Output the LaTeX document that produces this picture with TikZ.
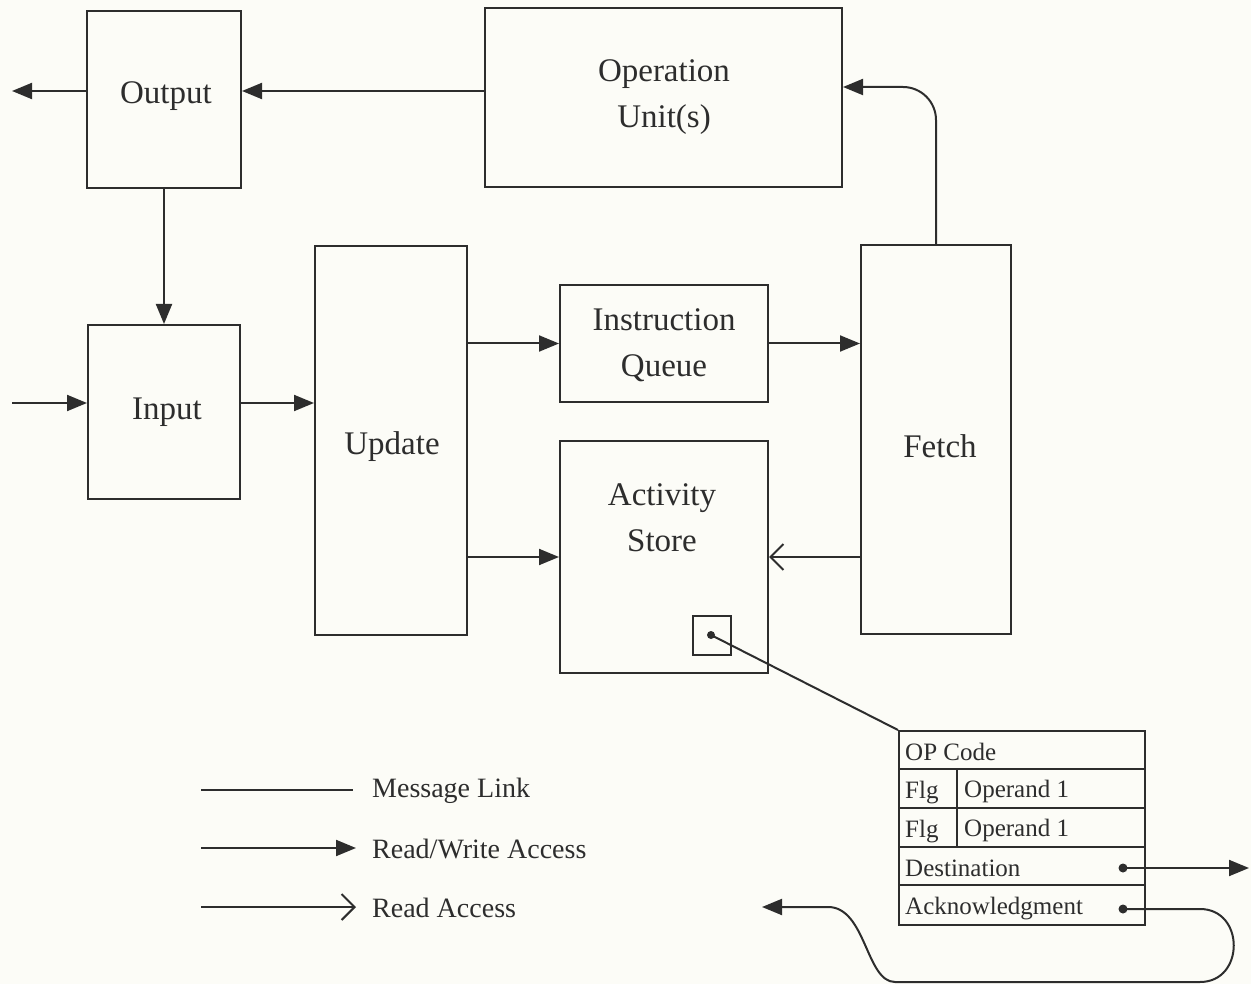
\documentclass[tikz,border=0pt]{standalone}
\usepackage{fontspec}
\setmainfont{Liberation Serif}
\usetikzlibrary{arrows.meta,calc}
\definecolor{paper}{RGB}{252,252,247}
\definecolor{ink}{RGB}{45,45,45}
\begin{document}
\begin{tikzpicture}[x=1pt,y=-1pt,
  box/.style={draw=ink,line width=2pt,inner sep=0pt},
  lbl/.style={font=\fontsize{33}{46}\selectfont,align=center,inner sep=0pt,text=ink},
  small/.style={font=\fontsize{25}{28}\selectfont,inner sep=0pt,anchor=west,text=ink},
  leg/.style={font=\fontsize{28}{30}\selectfont,inner sep=0pt,anchor=west,text=ink},
  link/.style={draw=ink,line width=2pt},
  rw/.style={link,-{Triangle[length=20pt,width=16pt]}},
  ro/.style={link,-{Straight Barb[length=13pt,width=26pt,line width=2pt]}},
  dot/.style={fill=ink}
  ]
\useasboundingbox (0,0) rectangle (1251,984);
\fill[paper] (0,0) rectangle (1251,984);

% boxes
\node[box,minimum width=154pt,minimum height=177pt] (output) at (164,99.5) {};
\node[box,minimum width=357pt,minimum height=179pt] (opunit) at (663.5,97.5) {};
\node[box,minimum width=150pt,minimum height=389pt] (fetch) at (936,439.5) {};
\node[box,minimum width=152pt,minimum height=174pt] (input) at (164,412) {};
\node[box,minimum width=152pt,minimum height=389pt] (update) at (391,440.5) {};
\node[box,minimum width=208pt,minimum height=117pt] (iq) at (664,343.5) {};
\node[box,minimum width=208pt,minimum height=232pt] (as) at (664,557) {};
\node[box,minimum width=38pt,minimum height=39pt] (sq) at (712,635.5) {};

% labels
\node[lbl] (toutput) at (166,96) {Output};
\node[lbl] (topunit) at (664,97) {Operation\\Unit(s)};
\node[lbl] (tfetch) at (940,446) {Fetch};
\node[lbl] (tinput) at (167,412) {Input};
\node[lbl] (tupdate) at (392,447) {Update};
\node[lbl] (tiq) at (664,345) {Instruction\\Queue};
\node[lbl] (tas) at (662,518) {Activity\\Store};

% table
\node[box,minimum width=246pt,minimum height=38pt] (rcode) at (1022,750) {};
\node[box,minimum width=246pt,minimum height=39pt] (rop1) at (1022,788.5) {};
\node[box,minimum width=246pt,minimum height=39pt] (rop2) at (1022,827.5) {};
\node[box,minimum width=246pt,minimum height=38pt] (rdest) at (1022,866) {};
\node[box,minimum width=246pt,minimum height=40pt] (rack) at (1022,905) {};
\node[box,minimum width=58pt,minimum height=39pt] (f1) at (928,788.5) {};
\node[box,minimum width=58pt,minimum height=39pt] (f2) at (928,827.5) {};
\node[small] (tcode) at (905,752) {OP Code};
\node[small] (tf1) at (905,793) {Flg};
\node[small] (to1) at (964,791) {Operand 1};
\node[small] (tf2) at (905,832) {Flg};
\node[small] (to2) at (964,830) {Operand 1};
\node[small] (tdest) at (905,868) {Destination};
\node[small] (tack) at (905,909) {Acknowledgment};

% coordinates
\coordinate (outL) at (12,91);
\coordinate (inL) at (12,403);
\coordinate (ddot) at (1123,868);
\coordinate (dout) at (1249,868);
\coordinate (adot) at (1123,909);
\coordinate (aend) at (762,907);
\coordinate (sqdot) at (711,635);

% connectors
\draw[rw] (output.west |- outL) -- (outL);
\draw[rw] (opunit.west |- outL) -- (output.east |- outL);
\draw[rw,rounded corners=33pt] (fetch.north) |- (opunit.east |- 0,87);
\draw[rw] (output.south) -- (input.north);
\draw[rw] (inL) -- (input.west |- inL);
\draw[rw] (input.east |- inL) -- (update.west |- inL);
\draw[rw] (update.east |- iq) -- (iq.west);
\draw[rw] (iq.east) -- (fetch.west |- iq);
\draw[rw] (update.east |- as) -- (as.west);
\draw[ro] (fetch.west |- as) -- (as.east);
\fill[dot] (sqdot) circle (4pt);
\draw[link] (sqdot) -- (rcode.north west);
\fill[dot] (ddot) circle (4.5pt);
\draw[rw] (ddot) -- (dout);
\fill[dot] (adot) circle (4.5pt);
\draw[rw] (adot) -- (1200,909) .. controls (1245,909) and (1245,982) .. (1200,982)
   -- (895,982) .. controls (866,982) and (866,907) .. (828,907) -- (aend);

% legend
\coordinate (l1a) at (201,790); \coordinate (l1b) at (353,790);
\coordinate (l2a) at (201,848); \coordinate (l2b) at (356,848);
\coordinate (l3a) at (201,907); \coordinate (l3b) at (356,907);
\draw[link] (l1a) -- (l1b);
\draw[rw] (l2a) -- (l2b);
\draw[ro] (l3a) -- (l3b);
\node[leg] (lg1) at (372,791) {Message Link};
\node[leg] (lg2) at (372,849) {Read/Write Access};
\node[leg] (lg3) at (372,908) {Read Access};
\end{tikzpicture}
\end{document}
